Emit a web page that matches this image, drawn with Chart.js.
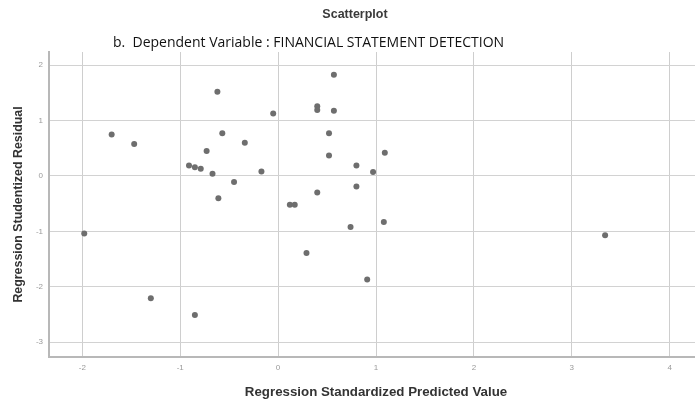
<!DOCTYPE html>
<html>
<head>
<meta charset="utf-8">
<title>Scatterplot</title>
<script src="https://cdn.jsdelivr.net/npm/chart.js@4.4.1/dist/chart.umd.min.js"></script>
<style>
  html, body { margin: 0; padding: 0; background: #fff; overflow: hidden; }
  #wrap { width: 706px; height: 401px; }
</style>
</head>
<body>
<div id="wrap"><canvas id="chart"></canvas></div>
<script>
// residuals vs predicted values
const predicted = [-0.62, -0.05, -1.70, -1.47, -0.57, -0.34, -0.73, -0.91, -0.85, -0.79,
  -0.67, -0.17, -0.45, -0.61, 0.57, 0.40, 0.40, 0.57, 0.52, 0.52,
  1.09, 0.80, 0.97, 0.80, 0.40, 0.12, 0.17, 0.74, 1.08, 0.29,
  0.91, -1.98, -1.30, -0.85, 3.34];
const residual = [1.52, 1.13, 0.75, 0.58, 0.77, 0.60, 0.45, 0.19, 0.16, 0.13,
  0.04, 0.08, -0.11, -0.40, 1.83, 1.26, 1.19, 1.18, 0.77, 0.37,
  0.42, 0.19, 0.07, -0.19, -0.30, -0.52, -0.52, -0.92, -0.83, -1.39,
  -1.87, -1.04, -2.21, -2.51, -1.07];

const xTicks = [-2, -1, 0, 1, 2, 3, 4];
const yTicks = [2, 1, 0, -1, -2, -3];

const chartTitle = "Scatterplot";
const chartSubtitle = "b.  Dependent Variable : FINANCIAL STATEMENT DETECTION";

const points = predicted.map((x, i) => ({ x: x, y: residual[i] }));

// title + subtitle drawn at the spots SPSS puts them
const headerText = {
  id: "headerText",
  afterDraw(chart) {
    const ctx = chart.ctx;
    ctx.save();
    ctx.textBaseline = "middle";
    ctx.fillStyle = "#3a3a3a";
    ctx.textAlign = "center";
    ctx.font = "bold 12.5px 'Liberation Sans', Arial, sans-serif";
    ctx.fillText(chartTitle, 355, 15);
    ctx.fillStyle = "#111";
    ctx.textAlign = "left";
    ctx.font = "14px 'Open Sans', sans-serif";
    ctx.fillText(chartSubtitle, 113, 43);
    ctx.restore();
  }
};

const ctx = document.getElementById("chart").getContext("2d");
const myChart = new Chart(ctx, {
  type: "scatter",
  data: {
    datasets: [
      {
        data: points,
        backgroundColor: "#6e6e6e",
        borderWidth: 0,
        pointRadius: 3,
        pointHoverRadius: 3,
      },
    ],
  },
  options: {
    responsive: true,
    maintainAspectRatio: false,
    animation: false,
    layout: { padding: { top: 52, left: 0, right: 0, bottom: 0 } },
    plugins: {
      legend: { display: false },
      tooltip: { enabled: false },
    },
    scales: {
      x: {
        type: "linear",
        min: -2.34,
        max: 4.34,
        afterBuildTicks: (axis) => {
          axis.ticks = xTicks.map((v) => ({ value: v }));
        },
        afterFit: (axis) => {
          axis.height = 44;
        },
        grid: { color: "#cecece", lineWidth: 1, drawTicks: false },
        border: { display: true, color: "#b8b8b8", width: 2 },
        ticks: {
          padding: 6,
          color: "#9a9a9a",
          font: { size: 8, family: "'Liberation Sans', Arial, sans-serif" },
          callback: (v) => String(v),
        },
        title: {
          display: true,
          text: "Regression Standardized Predicted Value",
          color: "#333",
          font: { size: 13.3, weight: "bold", family: "'Liberation Sans', Arial, sans-serif" },
          padding: { top: 0, bottom: 1 },
        },
      },
      y: {
        type: "linear",
        min: -3.27,
        max: 2.24,
        afterBuildTicks: (axis) => {
          axis.ticks = yTicks.map((v) => ({ value: v }));
        },
        afterFit: (axis) => {
          axis.width = 49;
        },
        grid: { color: "#d2d2d2", lineWidth: 1, drawTicks: false },
        border: { display: true, color: "#b8b8b8", width: 2 },
        ticks: {
          padding: 6,
          color: "#9a9a9a",
          font: { size: 8, family: "'Liberation Sans', Arial, sans-serif" },
          callback: (v) => String(v),
        },
        title: {
          display: true,
          text: "Regression Studentized Residual",
          color: "#333",
          font: { size: 12.4, weight: "bold", family: "'Liberation Sans', Arial, sans-serif" },
          padding: { top: 11, bottom: 0 },
        },
      },
    },
  },
  plugins: [headerText],
});
</script>
</body>
</html>
